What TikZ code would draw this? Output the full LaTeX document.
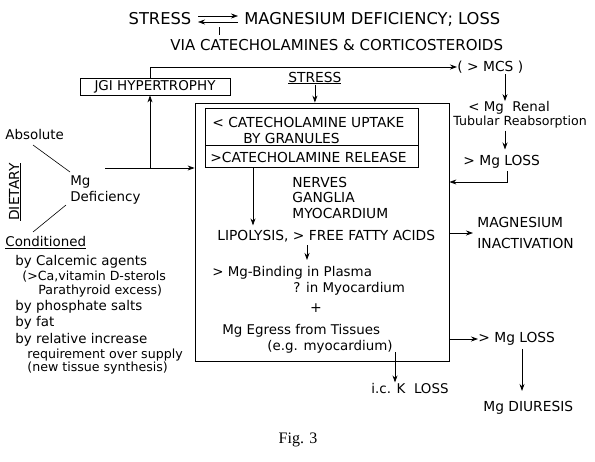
\documentclass[tikz,border=0pt]{standalone}
\usepackage{fontspec}
\setmainfont{DejaVu Sans}
\newfontfamily\capfont{Liberation Serif}
\usetikzlibrary{arrows.meta}

\begin{document}
\begin{tikzpicture}[x=1pt, y=-1pt, line width=0.8pt,
  >={Stealth[length=7pt, width=5pt]},
  txt/.style={inner sep=0pt, anchor=west, font=\fontsize{13.4}{15}\selectfont},
  small/.style={inner sep=0pt, anchor=west, font=\fontsize{12.6}{15}\selectfont},
  caps/.style={inner sep=0pt, anchor=west, font=\fontsize{13.8}{15}\selectfont},
  title/.style={inner sep=0pt, font=\fontsize{16.3}{18}\selectfont}]

\useasboundingbox (0,0) rectangle (595,461);

% title: stress <-> magnesium deficiency
\path
(160,19) node [title] (stresstop) {STRESS}
(244,19) node [title, anchor=west] (magdef) {MAGNESIUM DEFICIENCY; LOSS}
(170,45) node [caps, font=\fontsize{15}{16}\selectfont] (via) {VIA CATECHOLAMINES \& CORTICOSTEROIDS};
\coordinate (tl) at (198,16);
\coordinate (tr) at (238,16);
\coordinate (bl) at (198,22);
\coordinate (br) at (238,22);
\draw[->, line width=0.6pt] (tl) -- (tr);
\draw[->, line width=0.6pt] (br) -- (bl);
\coordinate (tick) at (219,22);
\draw[line width=0.6pt] (tick)+(0,5) -- ++(0,13);

% JGI box and the line to MCS
\path
(155,86.5) node [draw, minimum width=150, minimum height=17, inner sep=0pt,
  font=\fontsize{13.5}{15}\selectfont] (jgi) {JGI HYPERTROPHY}
(457,67) node [caps] (mcs) {( > MCS )};
\coordinate (jgifoot) at (150,168);
\draw[->] (jgifoot |- jgi.north) |- (mcs.west);

% big box with the catecholamine boxes
\path
(322,232) node [draw, minimum width=254, minimum height=258] (bigbox) {}
(311.5,126.5) node [draw, minimum width=213, minimum height=37] (uptake) {}
(311.5,156) node [draw, minimum width=213, minimum height=22] (release) {}
(288,78) node [caps] (stress) {\underline{STRESS}};
\draw[->] (stress.south) -- (stress.south |- bigbox.north);

\path
(212,122) node [caps] (up1) {<\ CATECHOLAMINE UPTAKE}
(243,138) node [caps] (up2) {BY GRANULES}
(210,157) node [caps] (rel) {>CATECHOLAMINE RELEASE}
(292,182) node [caps] (nerves) {NERVES}
(292,197) node [caps] (ganglia) {GANGLIA}
(292,213) node [caps] (myo) {MYOCARDIUM}
(217,236) node [caps] (lipo) {LIPOLYSIS, > FREE FATTY ACIDS}
(212,273) node [txt] (bind) {> Mg-Binding in Plasma}
(293,289) node [txt] (inmyo) {? in Myocardium}
(316,308) node [inner sep=0pt, font=\fontsize{14}{16}\selectfont] (plus) {+}
(222,331) node [txt] (egress) {Mg Egress from Tissues}
(267,347) node [txt] (eg) {(e.g. myocardium)};
\coordinate (relfoot) at (253,167);
\draw[->] (release.south -| relfoot) -- ++(0,58);
\coordinate (lipofoot) at (307,245);
\draw[->] (lipofoot) -- ++(0,15);

% left side, dietary deficiency
\path
(5,135) node [txt] (absolute) {Absolute}
(70,182) node [txt] (mg) {Mg}
(70,198) node [txt] (deficiency) {Deficiency}
(15,192) node [caps, anchor=center, rotate=90] (dietary) {\underline{DIETARY}}
(5,243) node [txt] (conditioned) {\underline{Conditioned}}
(15,262) node [txt] (c1) {by Calcemic agents}
(22,277) node [small] (c2) {(>Ca,vitamin D-sterols}
(38,291) node [small] (c3) {Parathyroid excess)}
(15,307) node [txt] (c4) {by phosphate salts}
(15,323) node [txt] (c5) {by fat}
(15,340) node [txt] (c6) {by relative increase}
(27,355) node [small] (c7) {requirement over supply}
(27,368) node [small] (c8) {(new tissue synthesis)};
\coordinate (absfoot) at (33,145);
\coordinate (mgtop) at (70,172);
\coordinate (deffoot) at (66,205);
\coordinate (condtop) at (33,232);
\draw[line width=0.6pt] (absfoot) -- (mgtop);
\draw[line width=0.6pt] (deffoot) -- (condtop);
\coordinate (mgfeed) at (105,168);
\draw[->] (mgfeed) -- (mgfeed -| bigbox.west);
\draw[->] (jgifoot) -- (jgi.south -| jgifoot);

% right side, renal path
\path
(468,108) node [txt] (renal) {< Mg\ \ Renal}
(453,122) node [small] (tubular) {Tubular Reabsorption}
(463,162) node [caps] (loss1) {> Mg LOSS}
(477,222) node [caps] (inact1) {MAGNESIUM}
(477,243) node [caps] (inact2) {INACTIVATION}
(478,339) node [caps] (loss2) {> Mg LOSS}
(483,408) node [caps] (diuresis) {Mg DIURESIS}
(371,388) node [txt] (kloss) {i.c. K\ \ LOSS};
\coordinate (renaldrop) at (505,74);
\draw[->] (renaldrop) -- (renaldrop |- renal.north);
\draw[->] (tubular.south -| renaldrop) ++(0,2) -- ++(0,19);
\coordinate (hook) at (507,171);
\draw[->] (hook) |- (bigbox.east |- 0,182);
\coordinate (inactmid) at (473,233);
\draw[->] (bigbox.east |- inactmid) -- (inactmid);
\draw[->] (bigbox.east |- loss2) -- (loss2.west);
\draw[->] (loss2.south -| 522,0) ++(0,3) -- ++(0,42);
\draw[->] (395,352) -- (kloss.north -| 395,0);

% caption
\node [font=\capfont\fontsize{16}{18}\selectfont] (fig) at (298,440) {Fig. 3};

\end{tikzpicture}
\end{document}
